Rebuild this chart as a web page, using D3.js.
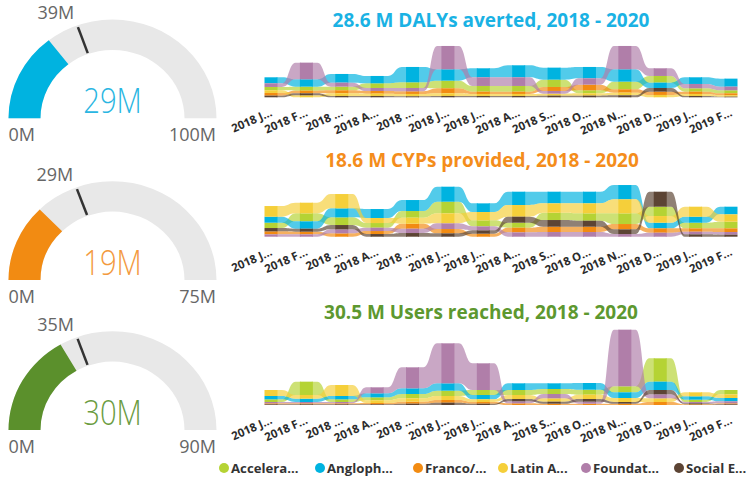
<!DOCTYPE html>
<html>
<head>
<meta charset="utf-8">
<script src="https://cdn.jsdelivr.net/npm/d3@7"></script>
<style>
body { margin: 0; background: #fff; }
svg { display: block; }
text { font-family: "Open Sans", sans-serif; }
</style>
</head>
<body>
<svg id="vis" width="748" height="478"></svg>
<script>
// months on the x axis and their (truncated) labels
var months = ["2018-01", "2018-02", "2018-03", "2018-04", "2018-05", "2018-06", "2018-07",
    "2018-08", "2018-09", "2018-10", "2018-11", "2018-12", "2019-01", "2019-02"];
var monthLabels = ["2018 J...", "2018 F...", "2018 ...", "2018 A...", "2018 ...", "2018 J...", "2018 J...",
    "2018 A...", "2018 S...", "2018 O...", "2018 N...", "2018 D...", "2019 J...", "2019 F..."];

var series = ["Accelera...", "Angloph...", "Franco/...", "Latin A...", "Foundat...", "Social E..."];
var seriesColors = ["#b5d334", "#00b3e0", "#f28b12", "#f5cf3a", "#b07ea9", "#5c4434"];

// DALYs averted (thousands, approx.)
var dalysAccel = [10, 12, 11, 14, 17, 23, 17, 17, 22, 9, 23, 20, 10, 9];
var dalysAnglo = [18, 22, 26, 22, 46, 34, 27, 36, 36, 34, 37, 16, 20, 24];
var dalysFranco = [8, 8, 9, 8, 8, 15, 7, 7, 12, 17, 10, 10, 7, 6];
var dalysLatin = [8, 6, 8, 7, 7, 8, 6, 6, 6, 7, 8, 7, 6, 4];
var dalysFound = [11, 50, 12, 9, 10, 70, 26, 26, 8, 19, 70, 23, 13, 11];
var dalysSocial = [5, 6, 4, 4, 3, 4, 4, 4, 5, 5, 6, 11, 4, 2];

// CYPs provided
var cypsAccel = [16, 24, 23, 14, 20, 35, 18, 15, 22, 22, 32, 28, 17, 20];
var cypsAnglo = [18, 22, 27, 27, 33, 45, 26, 40, 35, 35, 43, 17, 18, 23];
var cypsFranco = [9, 8, 10, 9, 15, 13, 9, 14, 16, 16, 16, 13, 10, 11];
var cypsLatin = [32, 32, 43, 15, 18, 30, 25, 35, 28, 30, 42, 20, 30, 22];
var cypsFound = [7, 7, 12, 10, 13, 17, 12, 13, 14, 14, 8, 12, 8, 8];
var cypsSocial = [10, 9, 13, 8, 11, 10, 10, 18, 20, 18, 14, 45, 7, 6];

// Users reached
var usersAccel = [8, 40, 8, 9, 13, 16, 15, 15, 15, 15, 18, 70, 7, 13];
var usersAnglo = [10, 10, 10, 12, 17, 22, 13, 20, 17, 20, 17, 25, 10, 10];
var usersFranco = [3, 3, 3, 4, 6, 8, 5, 5, 4, 4, 4, 9, 2, 3];
var usersLatin = [18, 11, 33, 8, 10, 12, 8, 12, 10, 13, 12, 11, 12, 11];
var usersFound = [4, 4, 4, 18, 63, 120, 80, 6, 13, 6, 170, 12, 4, 6];
var usersSocial = [2, 2, 2, 2, 4, 7, 4, 7, 6, 8, 5, 13, 3, 2];

var chartTitles = ["28.6 M DALYs averted, 2018 - 2020", "18.6 M CYPs provided, 2018 - 2020", "30.5 M Users reached, 2018 - 2020"];
var titleColors = ["#1ab2e4", "#f48d1b", "#5d982f"];

// gauges
var gaugeValues = [29, 19, 30];
var gaugeTargets = [39, 29, 35];
var gaugeMax = [100, 75, 90];
var gaugeColors = ["#00b3e0", "#f28b12", "#5b902c"];
var gaugeTextColors = ["#2ab6e2", "#f39a3e", "#6b9c3f"];

var svg = d3.select("#vis");

var ribbonData = [
    [dalysAccel, dalysAnglo, dalysFranco, dalysLatin, dalysFound, dalysSocial],
    [cypsAccel, cypsAnglo, cypsFranco, cypsLatin, cypsFound, cypsSocial],
    [usersAccel, usersAnglo, usersFranco, usersLatin, usersFound, usersSocial]
];
var baselines = [97.3, 236.7, 405];
var titleY = [26.7, 166.5, 319];
var titleX = [491, 482, 481];
var gaugeCY = [118.3, 280, 430];

var x = d3.scalePoint().domain(months).range([271, 731]);
var h = d3.scaleLinear().domain([0, 300]).range([0, 100]);
var colW = 13;

ribbonData.forEach(function(d, k) {
    drawRibbon(d, baselines[k]);
    svg.append("text")
        .attr("x", titleX[k])
        .attr("y", titleY[k])
        .attr("text-anchor", "middle")
        .attr("font-size", 19)
        .attr("font-weight", 700)
        .attr("fill", titleColors[k])
        .text(chartTitles[k]);
    drawGauge(k);
});

function drawRibbon(data, base) {
    // stack per month: biggest on top
    var stacks = months.map(function(m, i) {
        var order = d3.range(series.length).sort(function(a, b) {
            return data[a][i] - data[b][i];
        });
        var pos = {};
        var y = base;
        order.forEach(function(s) {
            var y1 = y - h(data[s][i]);
            pos[s] = [y1, y];
            y = y1;
        });
        return pos;
    });

    var g = svg.append("g");
    series.forEach(function(name, s) {
        for (var i = 0; i < months.length - 1; i++) {
            var x0 = x(months[i]) + colW / 2 - 1,
                x1 = x(months[i + 1]) - colW / 2 + 1,
                gap = x1 - x0,
                xa = x0 + gap * 0.22,
                xb = x1 - gap * 0.22,
                xm = (xa + xb) / 2;
            var t0 = stacks[i][s][0], b0 = stacks[i][s][1],
                t1 = stacks[i + 1][s][0], b1 = stacks[i + 1][s][1];
            var p = d3.path();
            p.moveTo(x0, t0);
            p.lineTo(xa, t0);
            p.bezierCurveTo(xm, t0, xm, t1, xb, t1);
            p.lineTo(x1, t1);
            p.lineTo(x1, b1);
            p.lineTo(xb, b1);
            p.bezierCurveTo(xm, b1, xm, b0, xa, b0);
            p.lineTo(x0, b0);
            p.closePath();
            g.append("path")
                .attr("d", p.toString())
                .attr("fill", seriesColors[s])
                .attr("fill-opacity", 0.68);
        }
    });

    series.forEach(function(name, s) {
        g.selectAll(null)
            .data(months)
            .enter()
            .append("rect")
            .attr("x", function(m) { return x(m) - colW / 2; })
            .attr("width", colW)
            .attr("y", function(m, i) { return stacks[i][s][0]; })
            .attr("height", function(m, i) { return stacks[i][s][1] - stacks[i][s][0]; })
            .attr("fill", seriesColors[s]);
    });

    g.selectAll(".lbl")
        .data(months)
        .enter()
        .append("text")
        .attr("class", "lbl")
        .attr("transform", function(m) {
            return "translate(" + (x(m) + 2) + "," + (base + 18) + ") rotate(-24)";
        })
        .attr("text-anchor", "end")
        .attr("font-size", 11.5)
        .attr("font-weight", 700)
        .attr("fill", "#2b2b2b")
        .text(function(m, i) { return monthLabels[i]; });
}

function drawGauge(k) {
    var cx = 112.5, cy = gaugeCY[k], R = 104, r = 72, sy = 0.95;
    var ang = d3.scaleLinear().domain([0, gaugeMax[k]]).range([-Math.PI / 2, Math.PI / 2]);
    var arc = d3.arc().innerRadius(r).outerRadius(R);
    var g = svg.append("g").attr("transform", "translate(" + cx + "," + cy + ") scale(1," + sy + ")");

    g.append("path")
        .attr("d", arc({ startAngle: ang(0), endAngle: ang(gaugeMax[k]) }))
        .attr("fill", "#e8e8e8");
    g.append("path")
        .attr("d", arc({ startAngle: ang(0), endAngle: ang(gaugeValues[k]) }))
        .attr("fill", gaugeColors[k]);

    var a = ang(gaugeTargets[k]);
    g.append("line")
        .attr("x1", Math.sin(a) * (r + 1))
        .attr("y1", -Math.cos(a) * (r + 1))
        .attr("x2", Math.sin(a) * (R - 2))
        .attr("y2", -Math.cos(a) * (R - 2))
        .attr("stroke", "#333")
        .attr("stroke-width", 2.5);

    var t = svg.append("g").attr("transform", "translate(" + cx + "," + cy + ")");
    t.append("text")
        .attr("x", Math.sin(a) * R - 3)
        .attr("y", -Math.cos(a) * R * sy - 6)
        .attr("text-anchor", "end")
        .attr("font-family", "Roboto")
        .attr("font-size", 18)
        .attr("fill", "#666")
        .text(gaugeTargets[k] + "M");
    t.append("text")
        .attr("x", -R)
        .attr("y", 23)
        .attr("font-family", "Roboto")
        .attr("font-size", 18)
        .attr("fill", "#666")
        .text("0M");
    t.append("text")
        .attr("x", R - 0.5)
        .attr("y", 23)
        .attr("text-anchor", "end")
        .attr("font-family", "Roboto")
        .attr("font-size", 18)
        .attr("fill", "#666")
        .text(gaugeMax[k] + "M");
    t.append("text")
        .attr("transform", "translate(0,-5) scale(0.86,1)")
        .attr("text-anchor", "middle")
        .attr("font-family", "Roboto")
        .attr("font-weight", 300)
        .attr("font-size", 34)
        .attr("fill", gaugeTextColors[k])
        .text(gaugeValues[k] + "M");
}

// legend
var legendX = [224, 320, 418, 503, 586, 679];
var legend = svg.append("g").selectAll("g")
    .data(series)
    .enter()
    .append("g")
    .attr("transform", function(d, i) { return "translate(" + legendX[i] + ",468)"; });
legend.append("circle")
    .attr("r", 5)
    .attr("fill", function(d, i) { return seriesColors[i]; });
legend.append("text")
    .attr("x", 7)
    .attr("y", 5)
    .attr("font-size", 13.2)
    .attr("font-weight", 700)
    .attr("fill", "#333")
    .text(function(d) { return d; });
</script>
</body>
</html>
